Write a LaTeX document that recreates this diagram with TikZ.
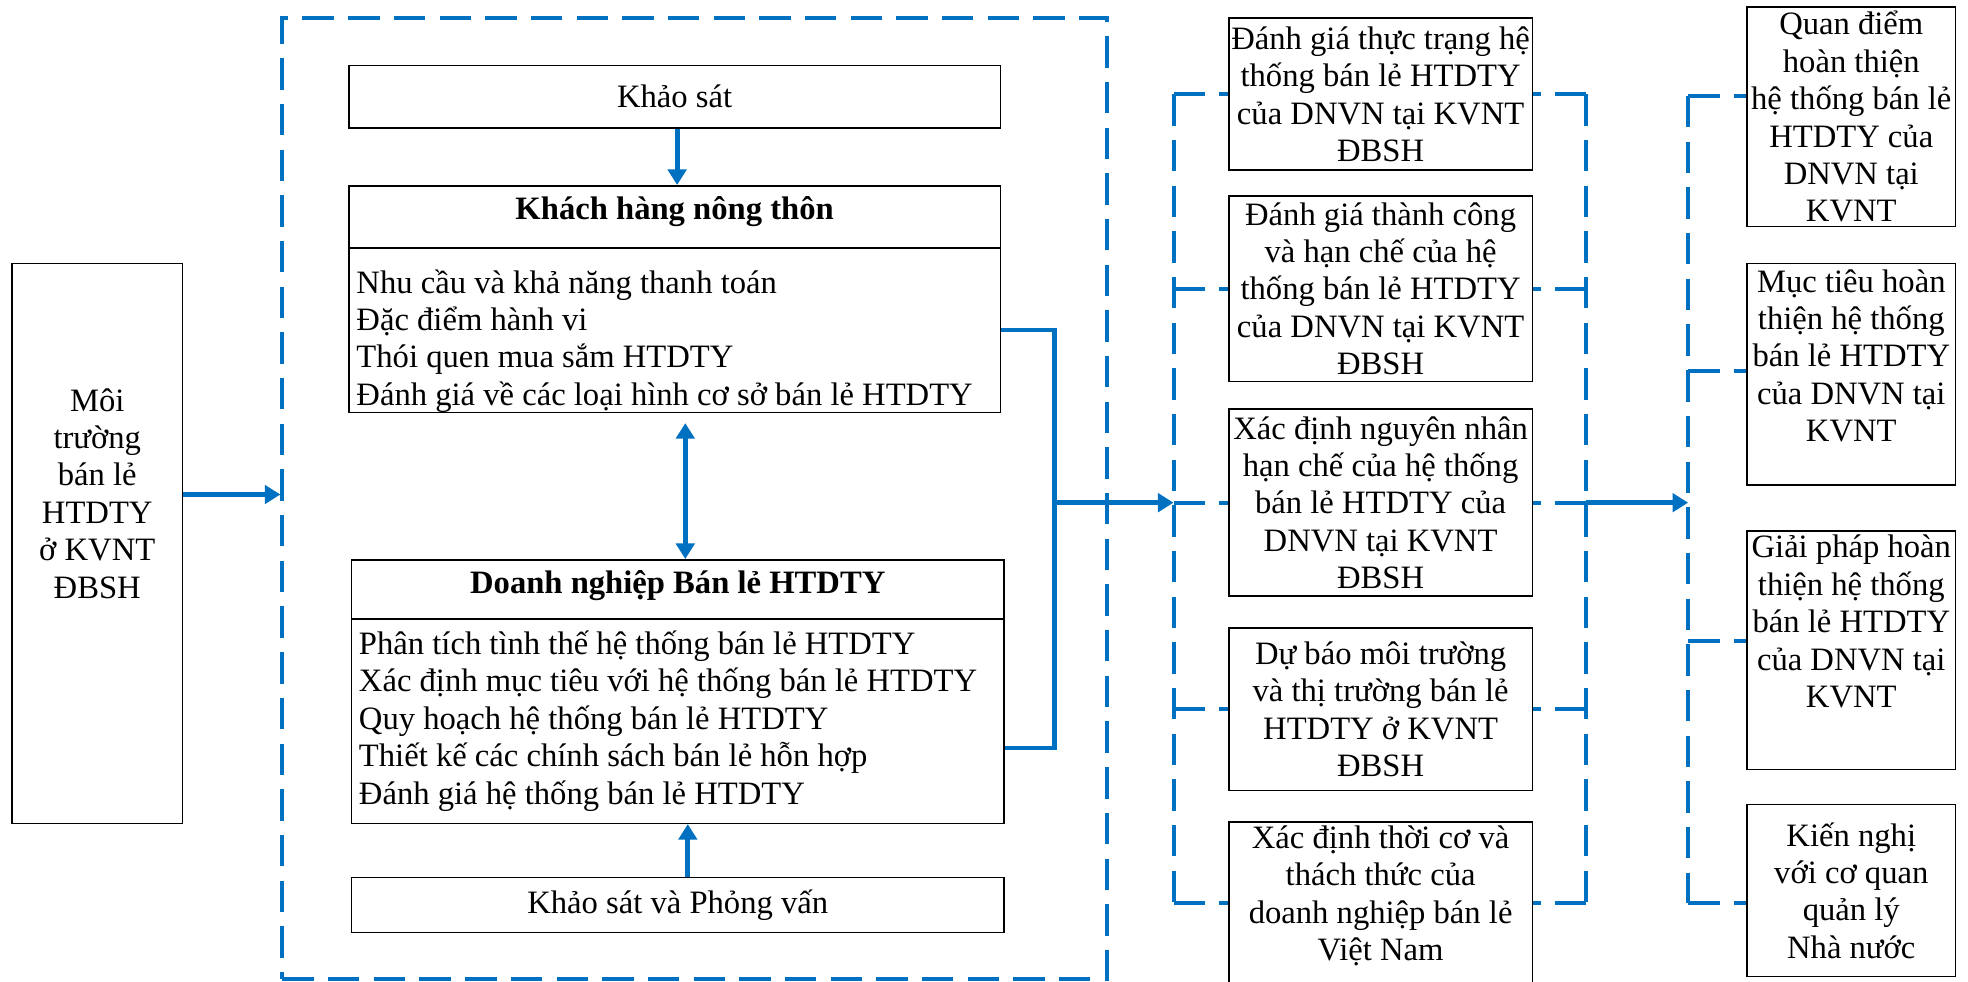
\documentclass[tikz,border=0pt]{standalone}
\usepackage{fontspec}
\setmainfont{Liberation Serif}
\usetikzlibrary{arrows.meta}
\definecolor{wblue}{HTML}{0070C0}
\newcommand{\lowstrut}[1]{\rule[-#1]{0pt}{#1}}
\begin{document}
\begin{tikzpicture}[x=0.5pt,y=-0.5pt,
  box/.style={draw=black, line width=0.6pt, inner sep=0pt, align=flush center,
    font=\fontsize{13}{14.9}\selectfont},
  listbox/.style={box, align=flush left, inner xsep=3pt},
  dsh/.style={draw=wblue, line width=1.6pt, dash pattern=on 12.5pt off 5.7pt},
  flow/.style={draw=wblue, line width=1.9pt},
  tip/.tip={Triangle[length=6.2pt,width=7.3pt]},
  arr/.style={flow, -tip},
]
\useasboundingbox (0,0) rectangle (1568,782);

% frame
\node[dsh, minimum width=328.5pt, minimum height=382.7pt, inner sep=0pt] (frame) at (553.5,397.3) {};

% left
\node[box, minimum width=68pt, minimum height=223pt] (env) at (77.5,433)
  {Môi\\trường\\bán lẻ\\HTDTY\\ở KVNT\\ĐBSH\lowstrut{40pt}};

% center column
\node[box, minimum width=259.5pt, minimum height=25pt] (ks) at (537.5,77) {Khảo sát};
\node[box, minimum width=259.5pt, minimum height=25pt] (kht) at (537.5,173)
  {\textbf{Khách hàng nông thôn}\lowstrut{7pt}};
\node[listbox, text width=253.5pt, minimum height=65pt] (khb) at (537.5,263)
  {\rule{0pt}{18pt}Nhu cầu và khả năng thanh toán\\Đặc điểm hành vi\\Thói quen mua sắm HTDTY\\Đánh giá về các loại hình cơ sở bán lẻ HTDTY};
\node[box, minimum width=260pt, minimum height=23.5pt] (dnt) at (540,469.5)
  {\textbf{Doanh nghiệp Bán lẻ HTDTY}\lowstrut{6pt}};
\node[listbox, text width=254pt, minimum height=81.5pt] (dnb) at (540,574.5)
  {Phân tích tình thế hệ thống bán lẻ HTDTY\\Xác định mục tiêu với hệ thống bán lẻ HTDTY\\Quy hoạch hệ thống bán lẻ HTDTY\\Thiết kế các chính sách bán lẻ hỗn hợp\\Đánh giá hệ thống bán lẻ HTDTY};
\node[box, minimum width=260pt, minimum height=22pt] (kp) at (540,721) {Khảo sát và Phỏng vấn};

% middle column
\node[box, minimum width=121pt, minimum height=60.5pt] (m1) at (1100,75)
  {Đánh giá thực trạng hệ\\thống bán lẻ HTDTY\\của DNVN tại KVNT\\ĐBSH};
\node[box, minimum width=121pt, minimum height=73.8pt] (m2) at (1100,230)
  {Đánh giá thành công\\và hạn chế của hệ\\thống bán lẻ HTDTY\\của DNVN tại KVNT\\ĐBSH};
\node[box, minimum width=121pt, minimum height=74.5pt] (m3) at (1100,400.5)
  {Xác định nguyên nhân\\hạn chế của hệ thống\\bán lẻ HTDTY của\\DNVN tại KVNT\\ĐBSH};
\node[box, minimum width=121pt, minimum height=64.7pt] (m4) at (1100,565)
  {Dự báo môi trường\\và thị trường bán lẻ\\HTDTY ở KVNT\\ĐBSH};
\node[box, minimum width=121pt, minimum height=64.5pt] (m5) at (1100,719.5)
  {Xác định thời cơ và\\thách thức của\\doanh nghiệp bán lẻ\\Việt Nam\lowstrut{8pt}};

% right column
\node[box, minimum width=83pt, minimum height=87.6pt] (r1) at (1475,93)
  {Quan điểm\\hoàn thiện\\hệ thống bán lẻ\\HTDTY của\\DNVN tại\\KVNT};
\node[box, minimum width=83pt, minimum height=88.3pt] (r2) at (1475,298.3)
  {Mục tiêu hoàn\\thiện hệ thống\\bán lẻ HTDTY\\của DNVN tại\\KVNT\lowstrut{15pt}};
\node[box, minimum width=83pt, minimum height=95pt] (r3) at (1475,518)
  {Giải pháp hoàn\\thiện hệ thống\\bán lẻ HTDTY\\của DNVN tại\\KVNT\lowstrut{23pt}};
\node[box, minimum width=83pt, minimum height=68.5pt] (r4) at (1475,709.5)
  {Kiến nghị\\với cơ quan\\quản lý\\Nhà nước};

% bus coordinates
\coordinate (jt) at (840,0);
\coordinate (busL) at (935,0);
\coordinate (busM) at (1264,0);
\coordinate (busR) at (1345,0);
\coordinate (r1s) at ([yshift=8.25pt]r1.west);
\coordinate (r2s) at ([yshift=1.4pt]r2.west);
\coordinate (r3s) at ([yshift=3.7pt]r3.west);
\coordinate (r4s) at ([yshift=-5pt]r4.west);
\coordinate (envs) at ([yshift=19.5pt]env.east);
\coordinate (dnbs) at ([yshift=-10.75pt]dnb.east);

% arrows in the frame
\draw[arr] (envs) -- (envs -| frame.west);
\draw[arr] ([xshift=1pt]ks.south) -- ([xshift=1pt]kht.north);
\draw[flow, tip-tip] ([xshift=4.25pt,yshift=-4pt]khb.south) -- ([xshift=3pt]dnt.north);
\draw[arr] ([xshift=4pt]kp.north) -- ([xshift=4pt]dnb.south);

% main connector
\draw[flow] (khb.east) -- (khb.east -| jt) -- (jt |- dnbs) -- (dnbs);
\draw[arr] (jt |- m3.west) -- (busL |- m3.west);

% left bus of middle column
\draw[dsh] (busL |- m1.west) -- (busL |- m5.west);
\foreach \n in {m1,m2,m3,m4,m5} \draw[dsh] (busL |- \n.west) -- (\n.west);

% right bus of middle column
\draw[dsh] (busM |- m1.east) -- (busM |- m5.east);
\foreach \n in {m1,m2,m3,m4,m5} \draw[dsh] (busM |- \n.east) -- (\n.east);
\draw[arr] (busM |- m3.east) -- (busR |- m3.east);

% right bus
\draw[dsh] (busR |- r1s) -- (busR |- r4s);
\foreach \n in {r1s,r2s,r3s,r4s} \draw[dsh] (busR |- \n) -- (\n);
\end{tikzpicture}
\end{document}
